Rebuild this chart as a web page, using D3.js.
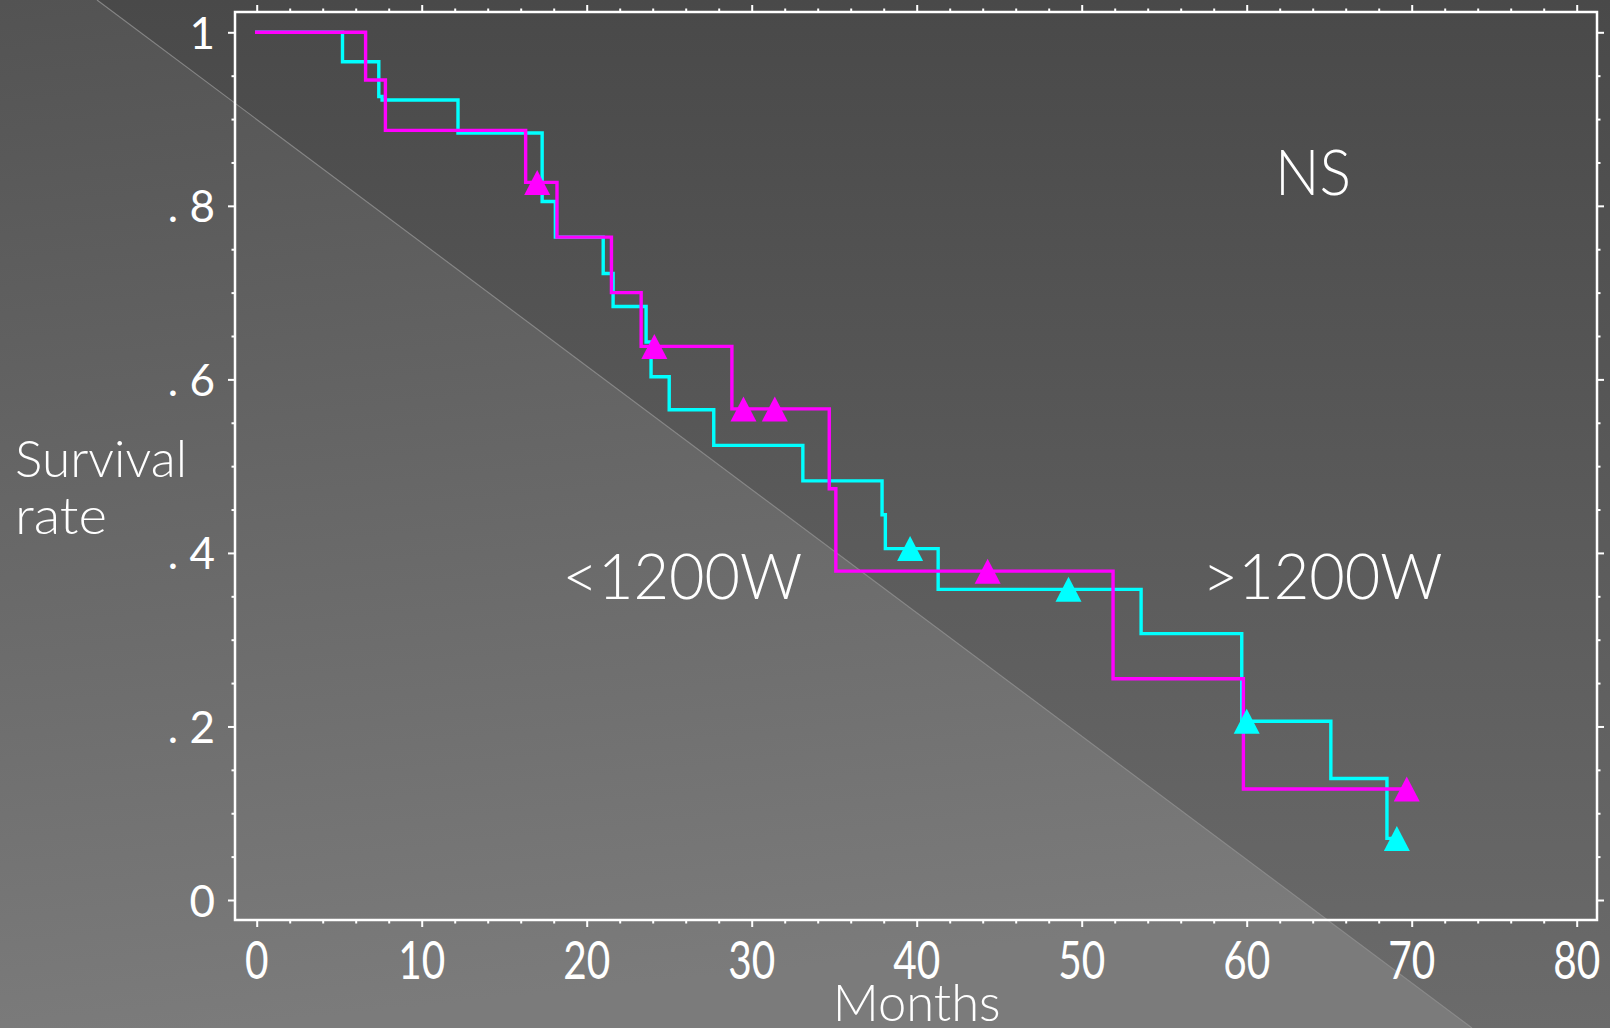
<!DOCTYPE html>
<html>
<head>
<meta charset="utf-8">
<script src="https://cdn.jsdelivr.net/npm/d3@7"></script>
<style>
  html, body { margin: 0; padding: 0; background: #555; }
  svg { display: block; }
</style>
</head>
<body>
<svg id="chart" width="1610" height="1028"></svg>
<script>
// Kaplan–Meier survival curves (months) for two power groups

// Curve A (cyan): step times and survival after each step
const curveATimes = [0, 5.2, 7.4, 7.6, 12.2, 17.3, 18.1, 21.0, 21.6, 23.6, 23.9, 25.0, 27.7, 33.1, 37.9, 38.1, 41.3, 53.6, 59.7, 65.1, 68.5];
const curveASurv  = [1.0, 0.966, 0.926, 0.922, 0.884, 0.805, 0.764, 0.722, 0.684, 0.643, 0.603, 0.565, 0.524, 0.483, 0.444, 0.405, 0.358, 0.307, 0.206, 0.140, 0.071];
const curveAEnd = 69.1;
const censorATimes = [39.6, 49.2, 60.0, 69.1];
const censorASurv  = [0.405, 0.358, 0.206, 0.071];

// Curve B (magenta)
const curveBTimes = [0, 6.6, 7.8, 16.3, 18.2, 21.5, 23.3, 28.8, 34.7, 35.1, 51.9, 59.8];
const curveBSurv  = [1.0, 0.945, 0.887, 0.827, 0.764, 0.700, 0.638, 0.566, 0.474, 0.379, 0.255, 0.128];
const curveBEnd = 69.7;
const censorBTimes = [17.0, 24.1, 29.5, 31.4, 44.3, 69.7];
const censorBSurv  = [0.827, 0.638, 0.566, 0.566, 0.379, 0.128];

// Axis ticks and labels
const xMajorTicks = [0, 10, 20, 30, 40, 50, 60, 70, 80];
const xTickLabels = ["0", "10", "20", "30", "40", "50", "60", "70", "80"];
const yMajorTicks = [0, 0.2, 0.4, 0.6, 0.8, 1.0];
const yTickLabels = ["0", ". 2", ". 4", ". 6", ". 8", "1"];
const groupLabels = ["<1200W", ">1200W"];
const groupLabelX = [25.8, 64.6];
const statLabel = "NS";

const W = 1610, H = 1028;
const frame = { left: 235, right: 1597, top: 12, bottom: 920 };

const svg = d3.select("#chart");
const defs = svg.append("defs");

// Background: two toned gradient panels split by a diagonal
const gUpper = defs.append("linearGradient").attr("id", "bgUpper")
  .attr("x1", 0).attr("y1", 0).attr("x2", 0).attr("y2", 1);
gUpper.append("stop").attr("offset", 0).attr("stop-color", "#494949");
gUpper.append("stop").attr("offset", 1).attr("stop-color", "#6b6b6b");
const gLower = defs.append("linearGradient").attr("id", "bgLower")
  .attr("x1", 0).attr("y1", 0).attr("x2", 0.15).attr("y2", 1);
gLower.append("stop").attr("offset", 0).attr("stop-color", "#535353");
gLower.append("stop").attr("offset", 1).attr("stop-color", "#7b7b7b");

const diagA = [97, 0], diagB = [1472, 1028];
svg.append("rect").attr("width", W).attr("height", H).attr("fill", "url(#bgUpper)");
svg.append("polygon")
  .attr("points", [[0, 0], diagA, diagB, [0, H]].map(p => p.join(",")).join(" "))
  .attr("fill", "url(#bgLower)");
svg.append("line")
  .attr("x1", diagA[0]).attr("y1", diagA[1]).attr("x2", diagB[0]).attr("y2", diagB[1])
  .attr("stroke", "#8e8e8e").attr("stroke-width", 1.2).attr("opacity", 0.85);

// Scales
const x = d3.scaleLinear().domain([0, 80]).range([256.7, 1576.7]);
const y = d3.scaleLinear().domain([0, 1]).range([900, 32.3]);

// Frame
svg.append("rect")
  .attr("x", frame.left).attr("y", frame.top)
  .attr("width", frame.right - frame.left).attr("height", frame.bottom - frame.top)
  .attr("fill", "none").attr("stroke", "#ffffff").attr("stroke-width", 2.5);

// Tick marks on all four sides, major and minor
const xMinor = d3.range(0, 81, 2).filter(v => v % 10 !== 0);
const yMinor = d3.range(0, 21).map(i => i * 0.05).filter(v => Math.abs(v * 5 - Math.round(v * 5)) > 1e-6);

function drawAxis(axisGen, transform, values, size) {
  const g = svg.append("g").attr("transform", transform)
    .call(axisGen.tickValues(values).tickSize(size).tickSizeOuter(0).tickFormat(""));
  g.select(".domain").remove();
  g.selectAll(".tick line").attr("stroke", "#ffffff").attr("stroke-width", 2);
}
drawAxis(d3.axisBottom(x), `translate(0,${frame.bottom})`, xMajorTicks, 7);
drawAxis(d3.axisBottom(x), `translate(0,${frame.bottom})`, xMinor, 3.5);
drawAxis(d3.axisTop(x), `translate(0,${frame.top})`, xMajorTicks, 7);
drawAxis(d3.axisTop(x), `translate(0,${frame.top})`, xMinor, 3.5);
drawAxis(d3.axisLeft(y), `translate(${frame.left},0)`, yMajorTicks, 7);
drawAxis(d3.axisLeft(y), `translate(${frame.left},0)`, yMinor, 3.5);
drawAxis(d3.axisRight(y), `translate(${frame.right},0)`, yMajorTicks, 7);
drawAxis(d3.axisRight(y), `translate(${frame.right},0)`, yMinor, 3.5);

const FONT = "Lato, 'Open Sans', 'DejaVu Sans', sans-serif";

// X tick labels (condensed digits)
svg.append("g").selectAll("text").data(xMajorTicks).join("text")
  .attr("x", d => x(d)).attr("y", 979)
  .attr("text-anchor", "middle")
  .attr("font-family", FONT).attr("font-size", 52)
  .attr("fill", "#ffffff")
  .attr("textLength", (d, i) => xTickLabels[i].length * 23.5)
  .attr("lengthAdjust", "spacingAndGlyphs")
  .text((d, i) => xTickLabels[i]);

// Y tick labels
svg.append("g").selectAll("text").data(yMajorTicks).join("text")
  .attr("x", 215).attr("y", d => y(d) + 16.5)
  .attr("text-anchor", "end")
  .attr("font-family", FONT).attr("font-size", 44)
  .attr("fill", "#ffffff")
  .attr("xml:space", "preserve")
  .text((d, i) => yTickLabels[i]);

// Axis titles
svg.append("text")
  .attr("x", x(40)).attr("y", 1021)
  .attr("text-anchor", "middle")
  .attr("font-family", FONT).attr("font-size", 52).attr("font-weight", 300)
  .attr("fill", "#ffffff")
  .attr("textLength", 168).attr("lengthAdjust", "spacingAndGlyphs")
  .text("Months");

svg.append("text")
  .attr("x", 15).attr("y", 477)
  .attr("font-family", FONT).attr("font-size", 52).attr("font-weight", 300)
  .attr("fill", "#ffffff")
  .attr("textLength", 172).attr("lengthAdjust", "spacingAndGlyphs")
  .text("Survival");
svg.append("text")
  .attr("x", 15).attr("y", 534)
  .attr("font-family", FONT).attr("font-size", 52).attr("font-weight", 300)
  .attr("fill", "#ffffff")
  .attr("textLength", 92).attr("lengthAdjust", "spacingAndGlyphs")
  .text("rate");

// Group labels and significance note
svg.append("g").selectAll("text").data(groupLabels).join("text")
  .attr("x", (d, i) => x(groupLabelX[i]))
  .attr("y", 599)
  .attr("text-anchor", "middle")
  .attr("font-family", FONT).attr("font-size", 64).attr("font-weight", 300)
  .attr("fill", "#ffffff")
  .attr("textLength", 240).attr("lengthAdjust", "spacingAndGlyphs")
  .text(d => d);

svg.append("text")
  .attr("x", 1313).attr("y", 195)
  .attr("text-anchor", "middle")
  .attr("font-family", FONT).attr("font-size", 64).attr("font-weight", 300)
  .attr("fill", "#ffffff")
  .attr("textLength", 76).attr("lengthAdjust", "spacingAndGlyphs")
  .text(statLabel);

// Step curves
const stepLine = d3.line()
  .x(d => x(d[0])).y(d => y(d[1]))
  .curve(d3.curveStepAfter);

function curvePoints(times, surv, end) {
  const pts = times.map((t, i) => [t, surv[i]]);
  pts.push([end, surv[surv.length - 1]]);
  return pts;
}

function triangle(cx, cy) {
  const p = d3.path();
  p.moveTo(cx - 13, cy + 12.5);
  p.lineTo(cx + 13, cy + 12.5);
  p.lineTo(cx, cy - 12.5);
  p.closePath();
  return p.toString();
}

const series = [
  { color: "#00ffff", times: curveATimes, surv: curveASurv, end: curveAEnd, cT: censorATimes, cS: censorASurv },
  { color: "#ff00ff", times: curveBTimes, surv: curveBSurv, end: curveBEnd, cT: censorBTimes, cS: censorBSurv }
];

series.forEach(s => {
  svg.append("path")
    .datum(curvePoints(s.times, s.surv, s.end))
    .attr("d", stepLine)
    .attr("fill", "none")
    .attr("stroke", s.color)
    .attr("stroke-width", 3.4)
    .attr("stroke-linejoin", "miter")
    .attr("stroke-linecap", "square");
});

series.forEach(s => {
  svg.append("g").selectAll("path")
    .data(s.cT.map((t, i) => [t, s.cS[i]]))
    .join("path")
    .attr("d", d => triangle(x(d[0]), y(d[1])))
    .attr("fill", s.color);
});
</script>
</body>
</html>
